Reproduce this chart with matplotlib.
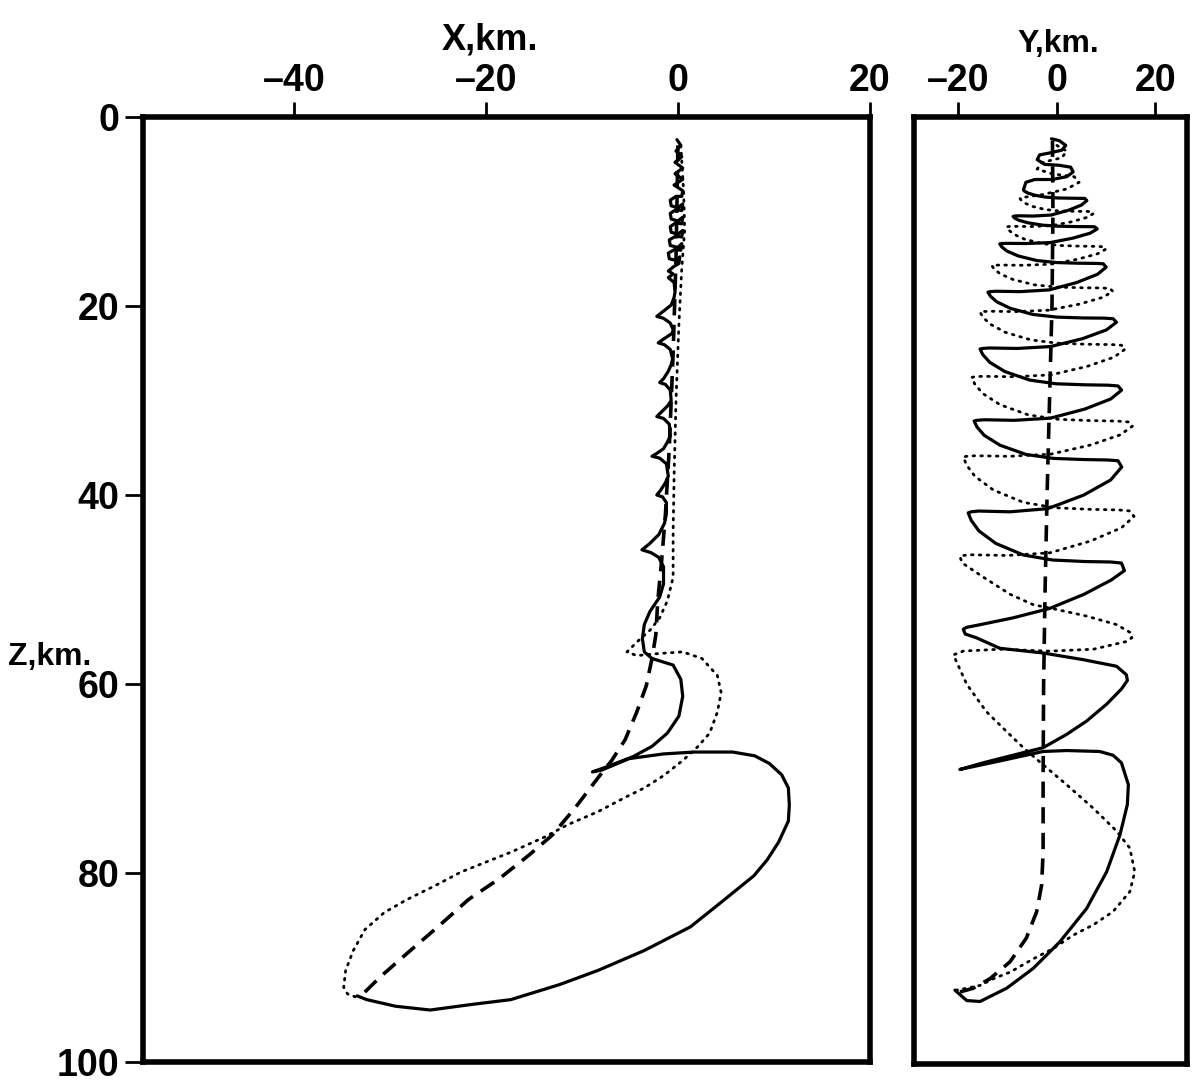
import matplotlib
matplotlib.use("Agg")
import matplotlib.pyplot as plt
import numpy as np

# ---------------- data (X or Y [km], Z [km]) ----------------
# Left panel, X-Z projection
xz_solid = [
    (-0.1, 2.4), (0.3, 3.0), (-0.2, 3.6), (0.4, 4.2), (-0.3, 4.8), (0.5, 5.4), (-0.3, 6.0),
    (0.5, 6.6), (-0.4, 7.2), (0.5, 7.8), (0.4, 8.4),
    (-0.2, 8.4), (-0.8, 8.8), (-0.7, 9.4), (0.0, 9.6), (0.5, 9.2), (0.4, 9.9),
    (-0.2, 9.8), (-0.8, 10.2), (-0.7, 10.8), (0.0, 11.0), (0.5, 10.6), (0.4, 11.3),
    (-0.2, 11.2), (-0.8, 11.6), (-0.7, 12.2), (0.0, 12.4), (0.5, 12.0), (0.4, 12.7),
    (-0.2, 12.6), (-0.9, 13.0), (-0.8, 13.6), (0.0, 13.8), (0.4, 13.4), (0.3, 14.1),
    (-0.3, 14.0), (-1.0, 14.4), (-0.9, 15.0), (-0.1, 15.2), (0.2, 14.8), (0.1, 15.5),
    (-0.4, 15.8), (-1.0, 16.3), (-0.5, 16.6), (-1.0, 17.0), (-0.4, 17.5), (-0.3, 18.5),
    (-0.4, 19.1), (-0.7, 19.9), (-1.7, 20.7), (-2.2, 21.1), (-1.5, 21.3), (-0.8, 21.8), (-0.5, 22.5),
    (-0.6, 22.9), (-1.5, 23.5), (-2.05, 23.9), (-1.4, 24.1), (-0.8, 24.6), (-0.55, 25.6),
    (-0.7, 26.2), (-1.0, 26.9), (-1.5, 27.7), (-1.9, 28.1), (-1.3, 28.3), (-0.8, 28.9), (-0.7, 30.0),
    (-1.1, 30.6), (-1.8, 31.3), (-2.2, 31.7), (-1.5, 31.9), (-0.9, 32.5), (-0.8, 33.8),
    (-1.1, 34.4), (-1.5, 35.1), (-2.2, 35.6), (-2.7, 35.9), (-1.9, 36.1), (-1.2, 36.7), (-1.0, 38.0),
    (-1.3, 38.7), (-1.8, 39.5), (-2.2, 40.0), (-1.6, 40.2), (-1.2, 40.8), (-1.2, 42.0),
    (-1.4, 43.0), (-2.0, 44.2), (-3.0, 45.2), (-3.75, 45.8), (-2.8, 46.1), (-2.0, 46.6), (-1.5, 47.6),
    (-1.5, 49.4), (-1.9, 50.8), (-2.9, 52.3), (-3.5, 53.7), (-3.7, 55.2), (-3.5, 56.6), (-2.7, 57.3),
    (-0.5, 58.0), (0.3, 59.5), (0.5, 61.3), (0.1, 63.4), (-1.1, 65.2), (-2.7, 66.6), (-4.7, 67.7),
    (-7.5, 68.8), (-8.9, 69.3), (-7.9, 69.1), (-5.1, 67.9), (-1.5, 67.4), (1.7, 67.2), (5.7, 67.2),
    (8.0, 67.6), (9.5, 68.4), (10.8, 69.6), (11.5, 71.0), (11.6, 72.8), (11.5, 74.5), (10.5, 76.7),
    (9.3, 78.6), (7.9, 80.3), (4.5, 83.1), (1.3, 85.7), (-3.5, 88.2), (-8.3, 90.3), (-12.3, 91.8),
    (-17.4, 93.4), (-21.4, 93.9), (-25.8, 94.5), (-29.4, 94.1), (-32.4, 93.4), (-33.4, 93.0),
]
xz_dotted = [
    (0.3, 3.0), (0.6, 8.0), (0.7, 12.0), (0.4, 16.0), (0.1, 22.0), (-0.2, 30.0), (-0.4, 38.0),
    (-0.5, 44.0), (-0.5, 46.2), (-0.5, 48.7), (-1.1, 51.2), (-1.9, 53.0), (-2.9, 54.3),
    (-3.9, 55.2), (-5.3, 56.6), (-4.3, 57.0), (-2.3, 56.8), (0.5, 56.6), (2.5, 57.3), (4.1, 59.1),
    (4.5, 60.9), (4.1, 63.0), (3.3, 65.2), (2.1, 66.6), (0.5, 68.1), (-1.5, 69.7), (-3.5, 71.0),
    (-5.5, 72.0), (-8.3, 73.5), (-11.5, 74.9), (-13.9, 76.2), (-17.4, 77.8), (-22.6, 79.9),
    (-25.4, 81.4), (-28.2, 82.8), (-30.6, 84.2), (-32.6, 86.0), (-33.8, 88.2), (-34.6, 90.3),
    (-34.8, 92.1), (-34.4, 92.8), (-33.6, 93.1),
]
xz_dashed = [
    (0.0, 3.0), (-0.2, 15.0), (-0.5, 25.0), (-0.9, 35.0), (-1.3, 42.0), (-1.7, 47.0),
    (-2.1, 51.2), (-2.3, 54.8), (-2.7, 57.3), (-3.3, 60.2), (-4.3, 63.0), (-5.5, 65.9),
    (-6.9, 68.1), (-8.3, 69.9), (-10.7, 73.1), (-13.1, 76.0), (-15.5, 78.1), (-18.6, 80.6),
    (-21.8, 82.8), (-25.0, 85.7), (-28.2, 88.5), (-31.0, 91.0), (-32.8, 92.8),
]

# Right panel, Y-Z projection
yz_solid = [
    (-1.1, 2.3), (0.5, 2.5), (1.8, 3.0), (1.0, 3.5), (-1.5, 3.8), (-3.5, 4.0), (-4.0, 4.5),
    (-2.5, 5.0), (0.5, 5.1), (2.8, 5.3), (3.3, 5.8), (2.0, 6.3), (-1.0, 6.6), (-4.5, 6.6),
    (-6.3, 6.9), (-6.8, 7.7),
    (-6.55, 7.84), (-5.93, 8.02), (-4.55, 8.25), (-2.3, 8.46), (0.08, 8.55), (2.7, 8.57), (4.8, 8.58), (5.7, 8.6),
    (6.07, 8.83), (4.97, 9.30), (2.34, 9.85), (-1.16, 10.35), (-4.81, 10.46), (-7.88, 10.43), (-8.6, 10.46), (-8.9, 10.5),
    (-8.57, 10.67), (-7.74, 10.90), (-5.91, 11.17), (-2.92, 11.42), (0.23, 11.53), (3.72, 11.57), (6.54, 11.58), (7.7, 11.6),
    (8.18, 11.82), (6.74, 12.27), (3.26, 12.79), (-1.37, 13.26), (-6.2, 13.36), (-10.25, 13.34), (-11.21, 13.36), (-11.6, 13.4),
    (-11.18, 13.72), (-10.13, 14.16), (-7.82, 14.68), (-4.04, 15.16), (-0.05, 15.37), (4.36, 15.44), (7.93, 15.46), (9.4, 15.5),
    (9.99, 15.86), (8.23, 16.61), (4.02, 17.48), (-1.6, 18.26), (-7.45, 18.44), (-12.36, 18.40), (-13.53, 18.44), (-14.0, 18.5),
    (-13.49, 18.92), (-12.22, 19.51), (-9.43, 20.21), (-4.86, 20.85), (-0.03, 21.13), (5.3, 21.22), (9.62, 21.24), (11.4, 21.3),
    (12.08, 21.68), (10.05, 22.48), (5.19, 23.41), (-1.29, 24.24), (-8.04, 24.44), (-13.71, 24.39), (-15.06, 24.44), (-15.6, 24.5),
    (-15.04, 25.09), (-13.64, 25.90), (-10.56, 26.88), (-5.52, 27.78), (-0.2, 28.17), (5.68, 28.28), (10.44, 28.32), (12.4, 28.4),
    (13.13, 28.84), (10.94, 29.77), (5.68, 30.84), (-1.32, 31.80), (-8.62, 32.03), (-14.76, 31.97), (-16.22, 32.03), (-16.8, 32.1),
    (-16.22, 32.73), (-14.76, 33.61), (-11.54, 34.66), (-6.29, 35.63), (-0.74, 36.05), (5.39, 36.17), (10.36, 36.22), (12.4, 36.3),
    (13.16, 36.96), (10.88, 38.34), (5.41, 39.93), (-1.89, 41.36), (-9.49, 41.69), (-15.87, 41.61), (-17.39, 41.69), (-18.0, 41.8),
    (-17.38, 42.6), (-15.82, 43.71), (-12.4, 45.03), (-6.8, 46.25), (-0.9, 46.78), (5.64, 46.94), (10.92, 46.99), (13.1, 47.1),
    (13.7, 47.9), (11.0, 48.9), (5.5, 50.4), (-1.5, 51.9), (-9.0, 52.9), (-15.5, 53.6), (-18.4, 53.9), (-19.0, 54.1),
    (-18.6, 54.6), (-16.3, 55.0), (-11.6, 56.1), (-2.8, 56.6), (5.3, 57.3), (12.1, 58.0), (14.1, 58.9),
    (14.3, 59.5), (13.1, 60.4), (10.1, 62.0), (6.0, 63.8), (1.95, 65.2), (-2.8, 66.6), (-8.2, 67.3),
    (-15.0, 68.2), (-19.7, 68.9), (-11.6, 68.0), (-2.8, 67.0), (1.95, 66.9), (8.7, 67.0),
    (11.4, 67.4), (13.1, 68.2), (14.5, 70.5), (14.3, 72.6), (12.8, 75.8), (10.1, 79.7),
    (6.0, 83.6), (0.6, 87.1), (-4.8, 89.9), (-10.2, 92.0), (-15.6, 93.4), (-18.3, 93.3),
    (-20.7, 92.2),
]
yz_dotted = [
    (0.0, 3.0), (2.0, 3.6), (1.0, 4.3), (-3.0, 4.8), (-4.0, 5.5), (-1.0, 6.0), (3.5, 6.3),
    (4.5, 6.9), (2.0, 7.6), (-3.0, 8.2), (-7.0, 8.5), (-7.5, 8.6),
    (-7.21, 8.81), (-6.49, 9.10), (-4.89, 9.45), (-2.28, 9.78), (0.48, 9.92), (3.52, 9.96), (5.99, 9.97), (7.0, 10.0),
    (7.43, 10.19), (6.14, 10.59), (3.04, 11.06), (-1.08, 11.47), (-5.38, 11.57), (-9.0, 11.54), (-9.86, 11.57), (-10.2, 11.6),
    (-9.81, 11.92), (-8.83, 12.36), (-6.67, 12.88), (-3.14, 13.36), (0.58, 13.57), (4.70, 13.64), (8.03, 13.66), (9.4, 13.7),
    (9.97, 13.94), (8.27, 14.44), (4.2, 15.02), (-1.22, 15.54), (-6.87, 15.66), (-11.62, 15.63), (-12.75, 15.66), (-13.2, 15.7),
    (-12.72, 16.06), (-11.53, 16.56), (-8.9, 17.16), (-4.6, 17.72), (-0.05, 17.96), (4.96, 18.03), (9.03, 18.05), (10.7, 18.1),
    (11.36, 18.4), (9.39, 19.03), (4.65, 19.75), (-1.66, 20.4), (-8.24, 20.55), (-13.76, 20.51), (-15.07, 20.55), (-15.6, 20.6),
    (-15.03, 21.13), (-13.59, 21.86), (-10.43, 22.74), (-5.27, 23.54), (0.19, 23.89), (6.21, 24.0), (11.09, 24.03), (13.1, 24.1),
    (13.86, 24.51), (11.58, 25.36), (6.11, 26.34), (-1.19, 27.23), (-8.79, 27.43), (-15.17, 27.38), (-16.69, 27.43), (-17.3, 27.5),
    (-16.66, 28.21), (-15.07, 29.19), (-11.58, 30.37), (-5.85, 31.45), (0.19, 31.92), (6.87, 32.06), (12.27, 32.11), (14.5, 32.2),
    (15.34, 32.64), (12.83, 33.57), (6.8, 34.64), (-1.25, 35.6), (-9.62, 35.83), (-16.66, 35.77), (-18.33, 35.83), (-19.0, 35.9),
    (-18.32, 36.76), (-16.63, 37.95), (-12.92, 39.38), (-6.83, 40.69), (-0.41, 41.26), (6.69, 41.43), (12.43, 41.49), (14.8, 41.6),
    (15.66, 42.18), (13.08, 43.38), (6.87, 44.77), (-1.42, 46.02), (-10.04, 46.3), (-17.29, 46.23), (-19.01, 46.3), (-19.7, 46.4),
    (-19.2, 47.1), (-14.9, 48.6), (-9.5, 50.4), (-4.8, 51.5), (-0.1, 52.0), (6.0, 52.7), (12.1, 53.6), (15.1, 54.5),
    (15.2, 55.0), (14.0, 55.4), (7.4, 56.2), (-1.4, 56.4), (-11.6, 56.2), (-19.0, 56.4), (-21.0, 56.8),
    (-18.3, 59.9), (-14.3, 62.8), (-10.2, 64.9), (-6.8, 66.6), (-2.8, 68.4), (1.95, 70.5),
    (7.4, 73.0), (12.1, 75.4), (14.8, 77.2), (15.8, 79.7), (14.8, 81.8), (11.4, 83.9),
    (7.4, 85.3), (3.3, 86.4), (-0.75, 87.8), (-4.8, 88.9), (-9.5, 90.3), (-12.9, 91.0),
    (-15.6, 91.7), (-18.3, 92.0), (-20.4, 92.2),
]
yz_dashed = [
    (-0.9, 2.5), (-0.8, 10.0), (-1.0, 20.0), (-1.5, 30.0), (-2.0, 40.0), (-2.4, 50.0),
    (-2.7, 60.0), (-2.8, 70.0), (-2.8, 77.6), (-3.1, 81.1), (-4.1, 83.9), (-6.2, 86.7),
    (-9.5, 89.2), (-13.6, 91.0), (-17.0, 92.0), (-19.7, 92.4),
]

x_ticks = [-40, -20, 0, 20]
y_ticks = [-20, 0, 20]
z_ticks = [0, 20, 40, 60, 80, 100]

# ---------------- figure ----------------
W, H = 1193, 1084
fig = plt.figure(figsize=(W / 100, H / 100), dpi=100)
plt.rcParams['font.family'] = ['Liberation Sans', 'DejaVu Sans']
plt.rcParams['font.weight'] = 'bold'

ax1 = fig.add_axes([143 / W, 1 - 1062 / H, 727 / W, 945 / H])
ax2 = fig.add_axes([914 / W, 1 - 1064 / H, 273 / W, 947 / H])

def draw(ax, solid, dotted, dashed):
    s = np.array(solid); d = np.array(dotted); q = np.array(dashed)
    ax.plot(d[:, 0], d[:, 1], color='black', lw=2.0, linestyle=(0, (0.6, 2.2)),
            dash_capstyle='round')
    ax.plot(q[:, 0], q[:, 1], color='black', lw=2.6, linestyle=(0, (4.5, 2.6)))
    ax.plot(s[:, 0], s[:, 1], color='black', lw=2.3, solid_joinstyle='round',
            solid_capstyle='round')

draw(ax1, xz_solid, xz_dotted, xz_dashed)
draw(ax2, yz_solid, yz_dotted, yz_dashed)

ax1.set_xlim(-55.7, 20)
ax2.set_xlim(-29.0, 26.4)
for ax in (ax1, ax2):
    ax.set_ylim(100, 0)
    for sp in ax.spines.values():
        sp.set_linewidth(4.0)
    ax.xaxis.tick_top()
    ax.tick_params(axis='x', direction='out', length=11, width=2.0, pad=2, labelsize=27)

def fmt(v):
    return '\u2013' + str(-v) if v < 0 else str(v)

ax1.set_xticks(x_ticks)
ax1.set_xticklabels([fmt(v) for v in x_ticks], fontweight='bold')
ax2.set_xticks(y_ticks)
ax2.set_xticklabels([fmt(v) for v in y_ticks], fontweight='bold')

ax1.set_yticks(z_ticks)
ax1.set_yticklabels([str(v) for v in z_ticks], fontweight='bold')
ax1.tick_params(axis='y', direction='out', length=13, width=2.0, pad=4, labelsize=27)
ax2.set_yticks([])

fig.text(490 / W, 1 - 40 / H, 'X,km.', fontsize=26, ha='center', va='center', fontweight='bold')
fig.text(1058 / W, 1 - 44 / H, 'Y,km.', fontsize=23, ha='center', va='center', fontweight='bold')
fig.text(50 / W, 1 - 657 / H, 'Z,km.', fontsize=23, ha='center', va='center', fontweight='bold')

fig.savefig('out.png', dpi=100)
